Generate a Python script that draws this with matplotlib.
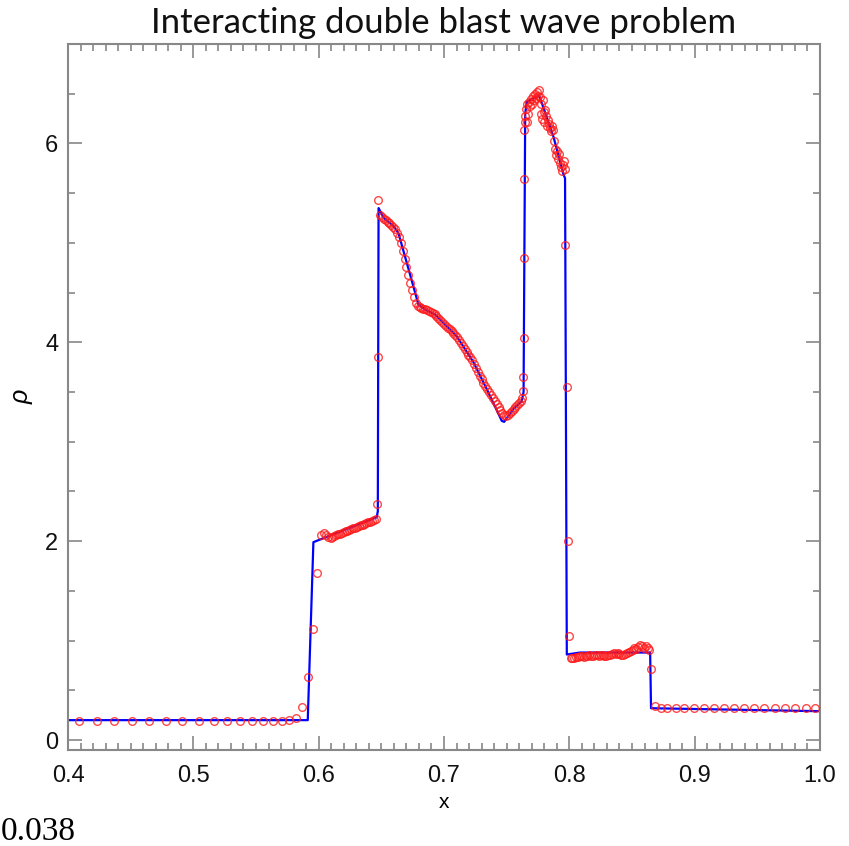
## Interacting double blast wave: density profile, reference vs simulation

import matplotlib.pyplot as plt
from matplotlib.ticker import MultipleLocator, FormatStrFormatter

# reference solution (blue line)
ref_x = [0.400, 0.5913, 0.5958, 0.6463, 0.6472, 0.6478, 0.6520, 0.6596, 0.6636,
         0.6703, 0.6796, 0.6850, 0.6929, 0.7102, 0.7235, 0.7341, 0.7461, 0.7480,
         0.7554, 0.7621, 0.7635, 0.7648, 0.7661, 0.7760, 0.7873, 0.7953, 0.7966,
         0.7980, 0.8086, 0.8645, 0.8652, 1.000]
ref_rho = [0.20, 0.20, 1.99, 2.24, 2.30, 5.35, 5.25, 5.17, 5.10,
           4.80, 4.38, 4.33, 4.28, 4.06, 3.80, 3.53, 3.21, 3.20,
           3.33, 3.41, 3.50, 6.30, 6.42, 6.48, 6.07, 5.69, 5.65,
           0.86, 0.88, 0.88, 0.32, 0.29]

# simulation points (red circles)
sim_x = [
    # undisturbed left state
    0.409, 0.423, 0.437, 0.451, 0.465, 0.478, 0.491, 0.5045, 0.5165, 0.527,
    0.537, 0.547, 0.5555, 0.5635, 0.5705, 0.5766, 0.5817, 0.5870, 0.5913, 0.5958,
    0.5990, 0.6017,
    # first plateau
    0.6043, 0.6060, 0.6078, 0.6095, 0.6110, 0.6125, 0.6140, 0.6155, 0.6170, 0.6185,
    0.6200, 0.6215, 0.6230, 0.6245, 0.6260, 0.6275, 0.6290, 0.6305, 0.6320, 0.6335,
    0.6350, 0.6365, 0.6380, 0.6395, 0.6410, 0.6425, 0.6440, 0.6455,
    0.6463, 0.6477, 0.6477,
    # between the shocks
    0.6490, 0.6505, 0.6520, 0.6535, 0.6550, 0.6565, 0.6580, 0.6595, 0.6610, 0.6625,
    0.6640, 0.6655, 0.6670, 0.6685, 0.6700, 0.6715, 0.6730, 0.6745, 0.6760, 0.6775,
    0.6790, 0.6805, 0.6820, 0.6835, 0.6850, 0.6865, 0.6880, 0.6895, 0.6910, 0.6925,
    0.6940, 0.6955, 0.6970, 0.6985, 0.7000, 0.7015, 0.7030, 0.7045, 0.7060, 0.7075,
    0.7090, 0.7105, 0.7120, 0.7135, 0.7150, 0.7165, 0.7180, 0.7195, 0.7210, 0.7225,
    0.7240, 0.7255, 0.7270, 0.7285, 0.7300, 0.7315, 0.7330, 0.7345, 0.7360, 0.7375,
    0.7390, 0.7405, 0.7420, 0.7435, 0.7450, 0.7465, 0.7480, 0.7495, 0.7510, 0.7525,
    0.7540, 0.7555, 0.7570, 0.7585, 0.7600, 0.7615, 0.7625,
    0.7634, 0.7634, 0.7636, 0.7638, 0.7640, 0.7642, 0.7645,
    # peak
    0.7650, 0.7655, 0.7660, 0.7665, 0.7672, 0.7680, 0.7687, 0.7695, 0.7702, 0.7710,
    0.7718, 0.7727, 0.7735, 0.7745, 0.7752, 0.7761, 0.7768, 0.7775, 0.7778, 0.7782,
    0.7790, 0.7795, 0.7800, 0.7807, 0.7815, 0.7822, 0.7830, 0.7840, 0.7847, 0.7855,
    0.7863, 0.7871, 0.7878, 0.7887, 0.7895, 0.7902, 0.7910, 0.7918, 0.7925, 0.7935,
    0.7943, 0.7950, 0.7959, 0.7963,
    0.7966, 0.7980, 0.7990, 0.7998,
    # contact plateau
    0.8010, 0.8025, 0.8040, 0.8055, 0.8070, 0.8085, 0.8100, 0.8115, 0.8130, 0.8145,
    0.8160, 0.8175, 0.8190, 0.8205, 0.8220, 0.8235, 0.8250, 0.8265, 0.8280, 0.8295,
    0.8310, 0.8325, 0.8340, 0.8355, 0.8370, 0.8385, 0.8400, 0.8415, 0.8430, 0.8445,
    0.8460, 0.8475, 0.8490, 0.8505, 0.8520, 0.8535, 0.8550, 0.8565, 0.8580, 0.8595,
    0.8610, 0.8625, 0.8635,
    0.8650, 0.8685,
    # undisturbed right state
    0.8730, 0.8783, 0.8850, 0.8916, 0.8996, 0.9076, 0.9156, 0.9235, 0.9315, 0.9395,
    0.9475, 0.9555, 0.9643, 0.9723, 0.9802, 0.9887, 0.9964,
]
sim_rho = [
    0.19, 0.19, 0.19, 0.19, 0.19, 0.19, 0.19, 0.19, 0.19, 0.19,
    0.19, 0.19, 0.19, 0.19, 0.19, 0.20, 0.22, 0.33, 0.63, 1.12,
    1.68, 2.06,
    2.08, 2.06, 2.04, 2.03, 2.04, 2.05, 2.06, 2.07, 2.07, 2.08,
    2.09, 2.10, 2.10, 2.11, 2.12, 2.13, 2.13, 2.14, 2.15, 2.16,
    2.16, 2.17, 2.18, 2.19, 2.19, 2.20, 2.21, 2.22,
    2.37, 3.85, 5.43,
    5.28, 5.26, 5.24, 5.23, 5.21, 5.20, 5.18, 5.16, 5.14, 5.10,
    5.06, 5.00, 4.92, 4.84, 4.76, 4.68, 4.60, 4.53, 4.46, 4.40,
    4.36, 4.35, 4.34, 4.33, 4.33, 4.32, 4.31, 4.30, 4.29, 4.28,
    4.26, 4.24, 4.22, 4.20, 4.18, 4.16, 4.14, 4.13, 4.11, 4.09,
    4.07, 4.05, 4.02, 3.99, 3.96, 3.93, 3.90, 3.87, 3.85, 3.82,
    3.78, 3.74, 3.70, 3.66, 3.63, 3.59, 3.56, 3.53, 3.50, 3.47,
    3.44, 3.41, 3.38, 3.35, 3.32, 3.29, 3.27, 3.26, 3.27, 3.29,
    3.31, 3.33, 3.35, 3.37, 3.39, 3.41, 3.44,
    3.51, 3.65, 4.04, 4.85, 5.64, 6.14, 6.22,
    6.28, 6.35, 6.22, 6.40, 6.30, 6.42, 6.38, 6.45, 6.40, 6.48,
    6.44, 6.50, 6.46, 6.52, 6.48, 6.54, 6.47, 6.30, 6.40, 6.25,
    6.44, 6.32, 6.22, 6.34, 6.28, 6.18, 6.24, 6.20, 6.16, 6.12,
    6.18, 6.14, 6.02, 5.94, 5.88, 5.92, 5.84, 5.89, 5.80, 5.76,
    5.72, 5.78, 5.82, 5.74,
    4.98, 3.55, 2.00, 1.05,
    0.82, 0.83, 0.83, 0.84, 0.84, 0.85, 0.85, 0.84, 0.85, 0.85,
    0.86, 0.85, 0.85, 0.86, 0.86, 0.85, 0.86, 0.86, 0.85, 0.85,
    0.86, 0.86, 0.87, 0.88, 0.87, 0.88, 0.87, 0.86, 0.86, 0.87,
    0.88, 0.89, 0.90, 0.91, 0.93, 0.92, 0.94, 0.96, 0.95, 0.93,
    0.95, 0.93, 0.91,
    0.71, 0.345,
    0.32, 0.32, 0.32, 0.32, 0.32, 0.32, 0.32, 0.32, 0.32, 0.32,
    0.32, 0.32, 0.32, 0.32, 0.32, 0.32, 0.32,
]

fig = plt.figure(figsize=(8.49, 8.46), dpi=100)
ax = fig.add_axes([0.0801, 0.1135, 0.8857, 0.8345])

ax.plot(ref_x, ref_rho, color='#0000ff', lw=1.6, zorder=2)
ax.plot(sim_x, sim_rho, ls='none', marker='o', ms=5.5, mfc='none',
        mec='#ff1a1a', mew=1.0, alpha=0.8, zorder=3)

ax.set_xlim(0.4, 1.0)
ax.set_ylim(-0.1, 7.0)

# IDL style box: ticks inward on every side
ax.xaxis.set_major_locator(MultipleLocator(0.1))
ax.xaxis.set_minor_locator(MultipleLocator(0.01))
ax.xaxis.set_major_formatter(FormatStrFormatter('%.1f'))
ax.yaxis.set_major_locator(MultipleLocator(2))
ax.yaxis.set_minor_locator(MultipleLocator(0.5))
ax.yaxis.set_major_formatter(FormatStrFormatter('%d'))
ax.tick_params(which='both', direction='in', top=True, right=True,
               color='#888888', width=1.2, labelsize=17, labelcolor='#111111')
ax.tick_params(which='major', length=10)
ax.tick_params(which='minor', length=5)
ax.tick_params(axis='x', which='major', pad=11)
ax.tick_params(axis='y', which='major', pad=7)
for side in ax.spines.values():
    side.set_color('#888888')
    side.set_linewidth(1.5)

for lab in ax.get_xticklabels() + ax.get_yticklabels():
    lab.set_fontfamily('Liberation Sans')

ax.set_xlabel('x', fontfamily='Liberation Sans', fontsize=15, labelpad=4)
ax.set_ylabel('ρ', fontfamily='Liberation Sans', fontstyle='italic',
              fontsize=18, labelpad=8, rotation=90)
ax.set_title('Interacting double blast wave problem', fontfamily='Lato',
             fontweight='normal', fontsize=25, pad=8, color='#111111')

# leftover caption at the bottom left
fig.text(0.001, 0.007, '0.038', ha='left', va='baseline',
         fontfamily='Liberation Serif', fontsize=24)

fig.savefig('out.png', dpi=100)
